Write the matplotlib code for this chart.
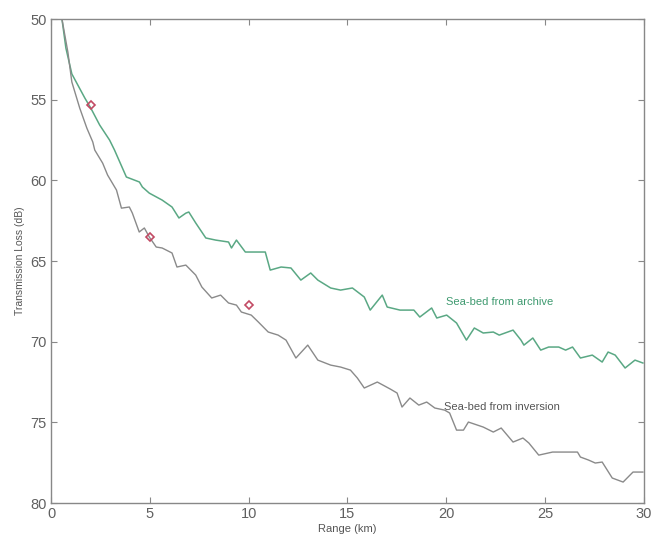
import matplotlib.pyplot as plt

plt.rcParams['font.family'] = ['Liberation Sans', 'DejaVu Sans']

# sea-bed from archive (green)
archive_range = [0.55, 0.75, 1.05, 1.71, 2.01, 2.46, 2.96, 3.21, 3.81, 4.47, 4.62, 4.97,
                 5.62, 6.12, 6.47, 6.82, 6.97, 7.32, 7.83, 8.33, 8.98, 9.13, 9.38, 9.83,
                 10.49, 10.84, 11.09, 11.64, 12.14, 12.64, 13.14, 13.50, 14.15, 14.65,
                 15.25, 15.85, 16.15, 16.76, 17.01, 17.66, 18.36, 18.66, 19.26, 19.52,
                 20.02, 20.52, 21.02, 21.42, 21.87, 22.38, 22.68, 23.38, 23.78, 23.93,
                 24.38, 24.78, 25.18, 25.69, 26.04, 26.39, 26.79, 27.39, 27.89, 28.19,
                 28.55, 29.05, 29.55, 29.95]
archive_tl = [50.0, 51.80, 53.40, 54.90, 55.52, 56.57, 57.50, 58.12, 59.79, 60.10, 60.41, 60.79,
              61.22, 61.65, 62.33, 62.03, 61.96, 62.64, 63.57, 63.70, 63.82, 64.19, 63.70, 64.44,
              64.44, 64.44, 65.56, 65.37, 65.43, 66.18, 65.74, 66.18, 66.67, 66.80,
              66.67, 67.23, 68.04, 67.11, 67.85, 68.04, 68.04, 68.47, 67.91, 68.53,
              68.35, 68.84, 69.90, 69.15, 69.46, 69.40, 69.59, 69.28, 69.90, 70.21,
              69.77, 70.52, 70.33, 70.33, 70.52, 70.33, 71.01, 70.83, 71.26, 70.64,
              70.83, 71.63, 71.14, 71.32]

# sea-bed from inversion (grey)
inversion_range = [0.55, 0.85, 1.05, 1.45, 1.81, 2.11, 2.21, 2.61, 2.86, 3.31, 3.56, 3.96,
                   4.11, 4.46, 4.72, 4.97, 5.32, 5.62, 6.12, 6.37, 6.82, 7.32, 7.63, 8.13,
                   8.58, 8.98, 9.38, 9.63, 10.13, 10.49, 10.99, 11.49, 11.89, 12.39, 12.99,
                   13.50, 14.15, 14.65, 15.15, 15.50, 15.85, 16.51, 17.16, 17.51, 17.76,
                   18.16, 18.61, 19.01, 19.42, 19.92, 20.17, 20.52, 20.87, 21.12, 21.87,
                   22.38, 22.78, 23.38, 23.88, 24.18, 24.68, 25.38, 26.04, 26.64, 26.79,
                   27.19, 27.54, 27.89, 28.40, 28.95, 29.20, 29.45, 29.95]
inversion_tl = [50.0, 52.05, 53.90, 55.52, 56.76, 57.62, 58.12, 58.93, 59.67, 60.60, 61.72, 61.65,
                62.02, 63.20, 62.95, 63.51, 64.13, 64.19, 64.50, 65.37, 65.25, 65.87, 66.61, 67.29,
                67.11, 67.60, 67.73, 68.16, 68.35, 68.78, 69.40, 69.59, 69.90, 71.01, 70.21,
                71.14, 71.45, 71.57, 71.76, 72.25, 72.87, 72.50, 72.93, 73.18, 74.05,
                73.49, 73.93, 73.74, 74.11, 74.24, 74.42, 75.48, 75.48, 74.98, 75.29,
                75.60, 75.35, 76.22, 75.97, 76.28, 77.03, 76.84, 76.84, 76.84, 77.15,
                77.33, 77.52, 77.46, 78.45, 78.70, 78.39, 78.08, 78.08]

# measured points
meas_range = [2, 5, 10]
meas_tl = [55.3, 63.5, 67.7]

fig = plt.figure(figsize=(6.55, 5.45), dpi=100)
ax = fig.add_axes([0.078, 0.077, 0.905, 0.888])

ax.plot(archive_range, archive_tl, color='#5aa884', lw=1.1)
ax.plot(inversion_range, inversion_tl, color='#8a8a8a', lw=1.0)
ax.plot(meas_range, meas_tl, ls='none', marker='D', ms=4.5, mfc='none',
        mec='#c24a64', mew=1.2)

ax.text(20.0, 67.55, 'Sea-bed from archive', color='#3f9a70', fontsize=8,
        va='center', ha='left')
ax.text(19.9, 74.05, 'Sea-bed from inversion', color='#555555', fontsize=8,
        va='center', ha='left')

ax.set_xlim(0, 30)
ax.set_ylim(80, 50)
ax.set_xticks([0, 5, 10, 15, 20, 25, 30])
ax.set_yticks([50, 55, 60, 65, 70, 75, 80])
ax.tick_params(direction='in', top=True, right=True, length=4, color='#888888',
               labelcolor='#606060', labelsize=10.5, pad=3)
for s in ax.spines.values():
    s.set_color('#888888')
    s.set_linewidth(1.0)

ax.set_xlabel('Range (km)', fontsize=8, color='#555555', labelpad=2)
ax.set_ylabel('Transmission Loss (dB)', fontsize=7.5, color='#555555', labelpad=4)

fig.savefig('out.png', dpi=100)
